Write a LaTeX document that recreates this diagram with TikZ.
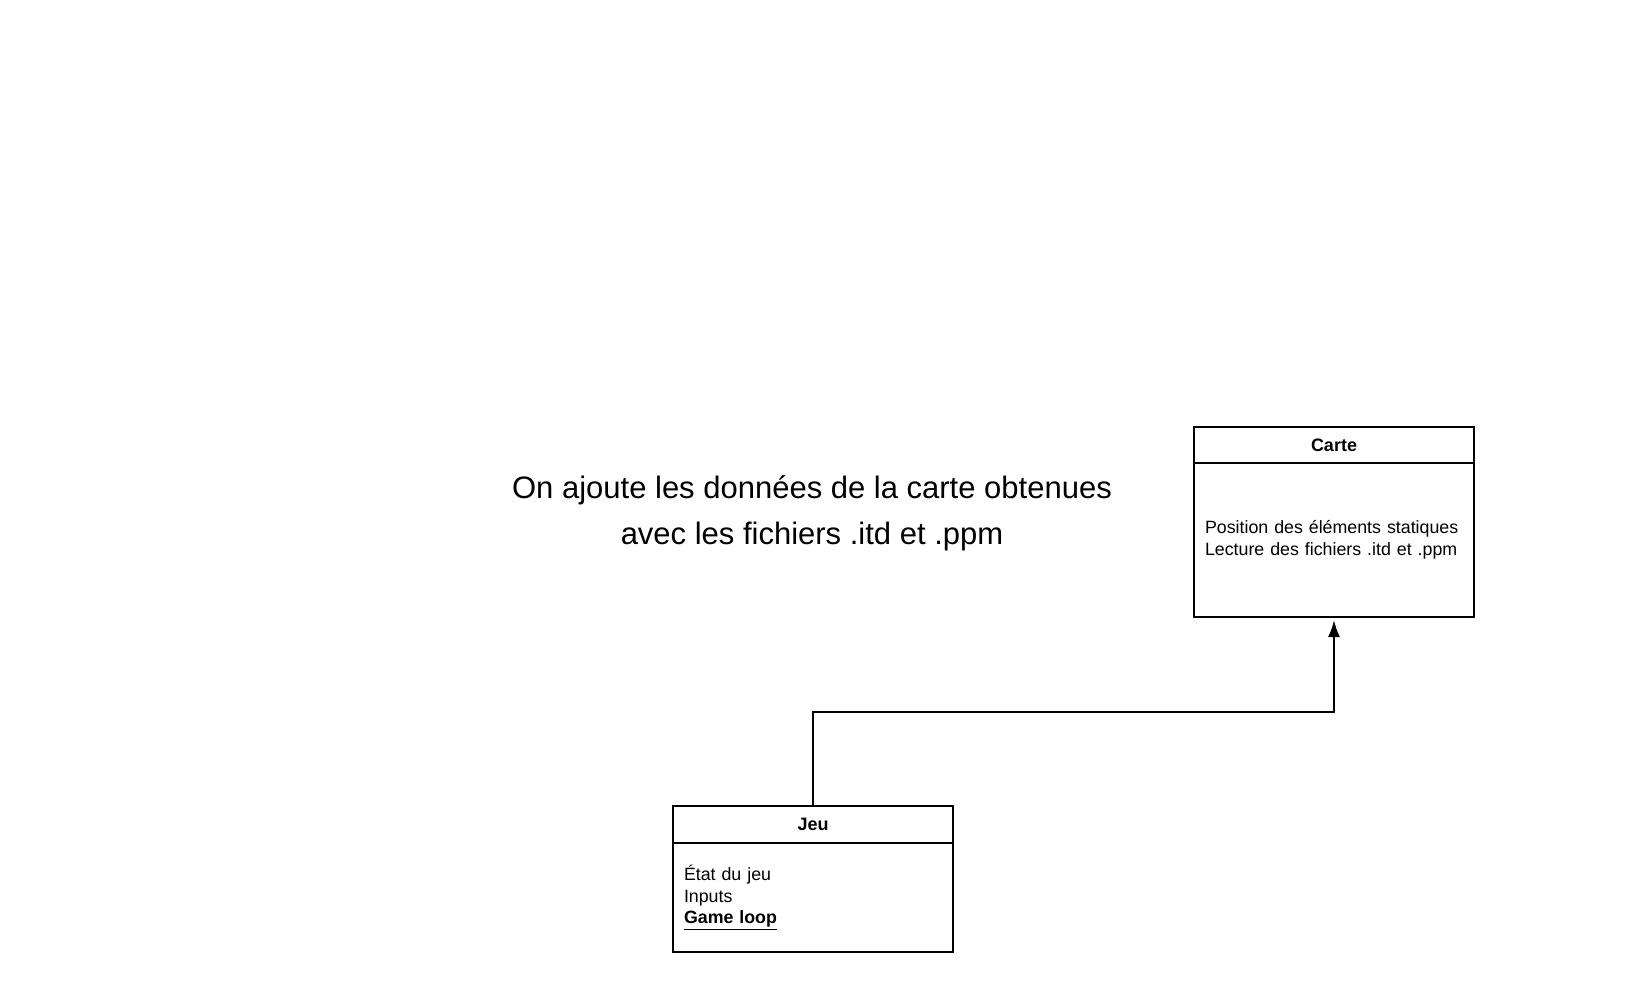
\documentclass[tikz,border=0pt]{standalone}
\usepackage{fontspec}
\setmainfont{Liberation Sans}
\usetikzlibrary{positioning,arrows.meta}
\tikzset{
  classhead/.style={draw, line width=2pt, outer sep=0pt, inner sep=0pt,
    minimum width=280pt, font=\fontsize{18}{21.5}\selectfont\bfseries},
  classbody/.style={draw, line width=2pt, outer sep=0pt, inner sep=11pt,
    text width=258pt, align=left, font=\fontsize{17.8}{21.5}\selectfont},
  link/.style={line width=2pt, -{Latex[length=17pt,width=12pt]}, shorten >=3pt},
}
\begin{document}
\begin{tikzpicture}[x=1pt, y=-1pt]
  % Fix the page size
  \useasboundingbox (0,0) rectangle (1626,994);

  % Draw the Carte class
  \node[classhead, anchor=north west, minimum height=36pt] (cartehead) at (1194,427) {Carte};
  \node[classbody, below=0pt of cartehead, minimum height=154pt] (cartebody)
    {Position des éléments statiques\\Lecture des fichiers .itd et .ppm};

  % Draw the Jeu class
  \node[classhead, anchor=north west, minimum height=37pt] (jeuhead) at (673,806) {Jeu};
  \node[classbody, below=0pt of jeuhead, minimum height=109pt] (jeubody)
    {État du jeu\\Inputs\\\underline{\textbf{Game loop}}};

  % Label the note
  \node[font=\fontsize{31}{46}\selectfont, align=center] (note) at (812,513)
    {On ajoute les données de la carte obtenues\\avec les fichiers .itd et .ppm};

  % Draw the link
  \coordinate (bend) at (813,712);
  \draw[link] (jeuhead.north) -- (bend) -| (cartebody.south);
\end{tikzpicture}
\end{document}
